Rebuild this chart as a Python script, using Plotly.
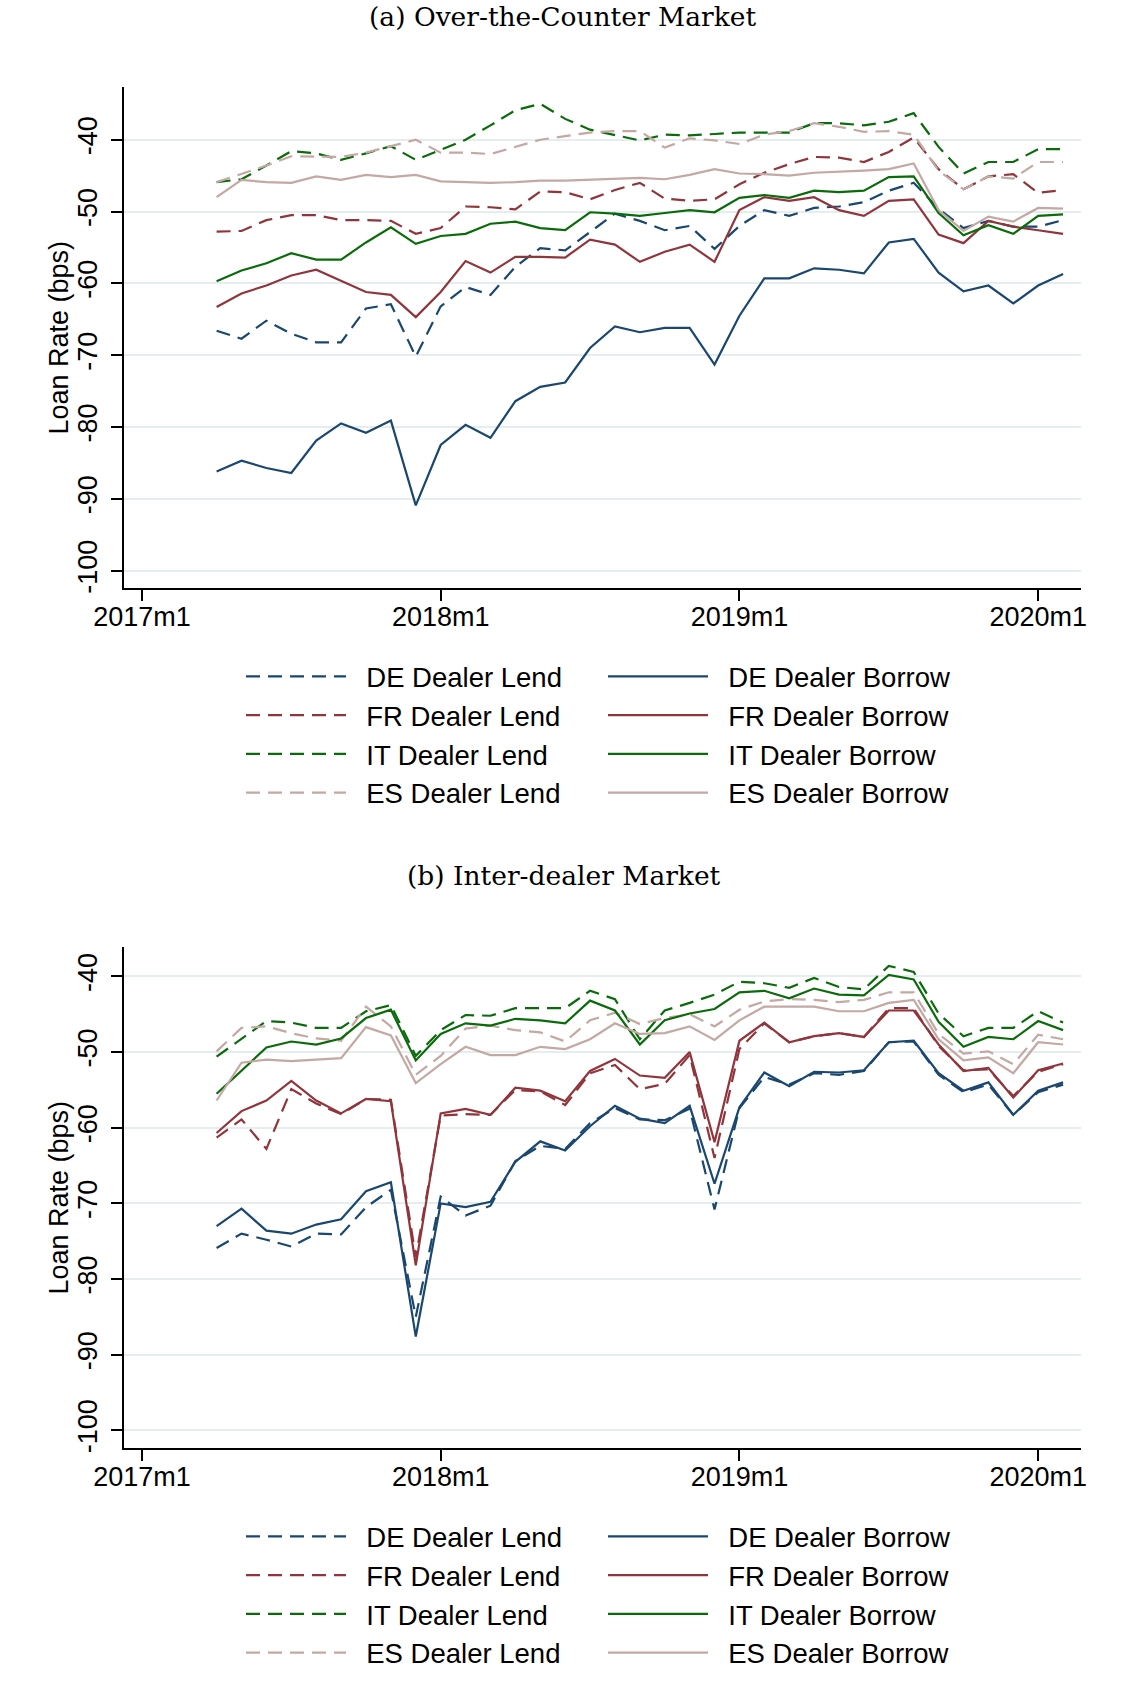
import plotly.graph_objects as go

# ---------------- data ----------------
month_labels = [
    "2017m4", "2017m5", "2017m6", "2017m7", "2017m8", "2017m9", "2017m10", "2017m11", "2017m12",
    "2018m1", "2018m2", "2018m3", "2018m4", "2018m5", "2018m6", "2018m7", "2018m8", "2018m9",
    "2018m10", "2018m11", "2018m12",
    "2019m1", "2019m2", "2019m3", "2019m4", "2019m5", "2019m6", "2019m7", "2019m8", "2019m9",
    "2019m10", "2019m11", "2019m12",
    "2020m1", "2020m2",
]
tick_labels = ["2017m1", "2018m1", "2019m1", "2020m1"]
y_ticks = [-100, -90, -80, -70, -60, -50, -40]
y_tick_text = ["-100", "-90", "-80", "-70", "-60", "-50", "-40"]
y_title = "Loan Rate (bps)"
panel_titles = ["(a) Over-the-Counter Market", "(b) Inter-dealer Market"]

# (a) Over-the-Counter market
otc_de_lend = [-66.6, -67.7, -65.2, -67.0, -68.2, -68.2, -63.5, -62.9, -70.2,
               -63.2, -60.5, -61.6, -57.7, -55.1, -55.4, -52.8, -50.3, -51.3, -52.6, -52.0, -55.2,
               -52.0, -49.8, -50.6, -49.5, -49.3, -48.7, -47.1, -46.0, -49.6, -52.3, -51.3, -52.1,
               -52.1, -51.2]
otc_de_borrow = [-86.2, -84.7, -85.7, -86.4, -81.9, -79.5, -80.8, -79.1, -90.9,
                 -82.5, -79.7, -81.5, -76.4, -74.4, -73.8, -69.0, -66.0, -66.8, -66.2, -66.2, -71.3,
                 -64.5, -59.3, -59.3, -57.9, -58.1, -58.6, -54.3, -53.8, -58.5, -61.1, -60.3, -62.8,
                 -60.3, -58.7]
otc_fr_lend = [-52.8, -52.7, -51.2, -50.5, -50.5, -51.2, -51.2, -51.3, -53.1,
               -52.3, -49.3, -49.4, -49.7, -47.2, -47.3, -48.3, -47.0, -46.0, -48.2, -48.5, -48.3,
               -46.2, -44.6, -43.4, -42.4, -42.5, -43.1, -41.7, -39.7, -44.1, -46.9, -45.1, -44.8,
               -47.4, -47.0]
otc_fr_borrow = [-63.3, -61.4, -60.3, -58.9, -58.1, -59.7, -61.2, -61.6, -64.7,
                 -61.2, -56.9, -58.5, -56.3, -56.3, -56.4, -53.9, -54.6, -57.0, -55.6, -54.6, -57.0,
                 -49.8, -48.0, -48.5, -48.0, -49.8, -50.6, -48.5, -48.3, -53.2, -54.4, -51.3, -52.1,
                 -52.6, -53.1]
otc_it_lend = [-45.9, -45.5, -43.6, -41.6, -41.9, -42.8, -41.9, -40.9, -42.8,
               -41.4, -40.0, -38.0, -35.9, -35.0, -37.1, -38.6, -39.3, -40.1, -39.3, -39.4, -39.2,
               -39.0, -39.0, -39.0, -37.7, -37.7, -38.0, -37.5, -36.3, -41.0, -44.7, -43.1, -43.1,
               -41.3, -41.3]
otc_it_borrow = [-59.7, -58.2, -57.2, -55.8, -56.7, -56.7, -54.3, -52.2, -54.5,
                 -53.4, -53.1, -51.7, -51.4, -52.3, -52.6, -50.1, -50.3, -50.6, -50.2, -49.8, -50.1,
                 -48.1, -47.7, -48.1, -47.1, -47.3, -47.1, -45.2, -45.1, -50.2, -53.3, -51.9, -53.1,
                 -50.6, -50.4]
otc_es_lend = [-45.9, -44.8, -43.6, -42.3, -42.4, -42.4, -41.8, -40.9, -40.0,
               -41.8, -41.8, -42.0, -41.0, -40.0, -39.5, -39.0, -38.8, -38.8, -41.1, -39.8, -40.1,
               -40.6, -39.3, -38.8, -37.7, -38.2, -38.9, -38.8, -39.3, -44.3, -46.9, -45.1, -45.4,
               -43.1, -43.1]
otc_es_borrow = [-48.0, -45.6, -45.9, -46.0, -45.1, -45.6, -44.9, -45.2, -44.9,
                 -45.8, -45.9, -46.0, -45.9, -45.7, -45.7, -45.6, -45.5, -45.3, -45.5, -44.9, -44.1,
                 -44.7, -44.8, -45.0, -44.6, -44.5, -44.3, -44.1, -43.3, -49.8, -52.7, -50.7, -51.4,
                 -49.5, -49.6]

# (b) Inter-dealer market
idm_de_lend = [-75.9, -74.0, -74.8, -75.7, -74.0, -74.1, -70.5, -68.2, -85.0,
               -69.1, -71.6, -70.3, -64.4, -62.4, -62.8, -59.4, -57.4, -58.9, -59.0, -57.5, -70.8,
               -57.4, -53.3, -54.3, -52.8, -53.0, -52.5, -48.7, -48.6, -53.0, -55.3, -54.3, -58.3,
               -55.3, -54.3]
idm_de_borrow = [-73.0, -70.7, -73.6, -74.0, -72.8, -72.1, -68.4, -67.2, -87.6,
                 -70.0, -70.5, -69.8, -64.5, -61.8, -63.0, -59.8, -57.1, -58.8, -59.4, -57.1, -67.4,
                 -57.3, -52.7, -54.5, -52.6, -52.7, -52.4, -48.7, -48.5, -52.8, -55.1, -54.0, -58.3,
                 -55.1, -54.0]
idm_fr_lend = [-61.3, -58.9, -62.8, -54.9, -56.8, -58.2, -56.2, -56.3, -77.1,
               -58.4, -58.2, -58.3, -55.0, -55.2, -57.0, -52.8, -51.7, -54.9, -54.2, -50.4, -64.0,
               -49.6, -46.2, -48.7, -47.9, -47.5, -48.0, -44.2, -44.2, -49.2, -52.4, -52.3, -55.8,
               -52.6, -51.6]
idm_fr_borrow = [-60.7, -57.8, -56.4, -53.8, -56.4, -58.1, -56.2, -56.5, -78.2,
                 -58.1, -57.5, -58.3, -54.7, -55.1, -56.5, -52.5, -50.9, -53.1, -53.4, -50.0, -61.9,
                 -48.5, -46.1, -48.7, -47.9, -47.5, -48.0, -44.5, -44.5, -49.0, -52.5, -52.1, -56.0,
                 -52.4, -51.5]
idm_it_lend = [-50.6, -48.2, -45.9, -46.1, -46.8, -46.8, -44.6, -43.8, -50.5,
               -47.1, -45.1, -45.2, -44.2, -44.2, -44.2, -41.9, -43.0, -48.3, -44.5, -43.5, -42.4,
               -40.7, -40.9, -41.5, -40.2, -41.4, -41.7, -38.6, -39.4, -44.9, -47.9, -46.8, -46.8,
               -44.6, -46.1]
idm_it_borrow = [-55.5, -52.4, -49.4, -48.6, -49.0, -48.2, -45.5, -44.4, -51.1,
                 -47.6, -46.2, -46.5, -45.6, -45.8, -46.2, -43.2, -44.5, -49.0, -45.8, -44.9, -44.3,
                 -42.1, -41.9, -42.9, -41.6, -42.4, -42.5, -39.8, -40.4, -46.0, -49.3, -48.0, -48.3,
                 -45.9, -47.1]
idm_es_lend = [-49.9, -46.8, -46.6, -47.5, -48.2, -48.5, -44.0, -46.6, -53.0,
               -50.5, -46.9, -46.5, -47.1, -47.4, -48.6, -45.8, -44.8, -46.3, -45.5, -45.0, -46.6,
               -44.4, -43.3, -43.0, -43.1, -43.4, -43.1, -42.1, -42.1, -47.6, -50.2, -49.9, -51.6,
               -47.7, -48.3]
idm_es_borrow = [-56.4, -51.4, -51.0, -51.2, -51.0, -50.8, -46.7, -47.8, -54.1,
                 -51.6, -49.3, -50.4, -50.4, -49.3, -49.6, -48.3, -46.2, -47.6, -47.5, -46.6, -48.4,
                 -45.8, -44.0, -44.0, -44.0, -44.6, -44.6, -43.5, -43.1, -48.3, -51.1, -50.7, -52.8,
                 -48.7, -49.0]

countries = ["DE", "FR", "IT", "ES"]
colors = {"DE": "#1a476f", "FR": "#90353b", "IT": "#0a6b0a", "ES": "#c3a8a3"}

panels = [
    {"lend": [otc_de_lend, otc_fr_lend, otc_it_lend, otc_es_lend],
     "borrow": [otc_de_borrow, otc_fr_borrow, otc_it_borrow, otc_es_borrow],
     "xa": "x", "ya": "y", "legs": ("legend", "legend2")},
    {"lend": [idm_de_lend, idm_fr_lend, idm_it_lend, idm_es_lend],
     "borrow": [idm_de_borrow, idm_fr_borrow, idm_it_borrow, idm_es_borrow],
     "xa": "x2", "ya": "y2", "legs": ("legend3", "legend4")},
]


def month_index(lbl):
    y, m = lbl.split("m")
    return (int(y) - 2017) * 12 + int(m) - 1


x_vals = [month_index(l) for l in month_labels]
tick_vals = [month_index(l) for l in tick_labels]

SANS = "Liberation Sans, Arial, sans-serif"
SERIF = "DejaVu Serif, serif"
DASH = "14px,8px"
GAP = "\u00a0\u00a0"  # spacing between legend key and label

fig = go.Figure()
for p in panels:
    for i, c in enumerate(countries):
        fig.add_trace(go.Scatter(
            x=x_vals, y=p["lend"][i], mode="lines", name=f"{GAP}{c} Dealer Lend",
            line=dict(color=colors[c], width=2.2, dash=DASH),
            xaxis=p["xa"], yaxis=p["ya"], legend=p["legs"][0]))
    for i, c in enumerate(countries):
        fig.add_trace(go.Scatter(
            x=x_vals, y=p["borrow"][i], mode="lines", name=f"{GAP}{c} Dealer Borrow",
            line=dict(color=colors[c], width=2.2),
            xaxis=p["xa"], yaxis=p["ya"], legend=p["legs"][1]))

W, H = 1125, 1690
ML, MR, MT, MB = 124, 44, 87.3, 241.7
PH = H - MT - MB


def py(px):  # pixel y -> paper y
    return (H - MB - px) / PH


def px_x(px):
    return (px - ML) / (W - ML - MR)


xaxis_common = dict(
    range=[-0.72, 37.72], tickmode="array", tickvals=tick_vals, ticktext=tick_labels,
    tickangle=0, automargin=False, ticklabelstandoff=-7,
    ticks="outside", ticklen=11, tickwidth=1.5, tickcolor="black",
    showline=True, linecolor="black", linewidth=1.5, showgrid=False, zeroline=False,
    tickfont=dict(family=SANS, size=27, color="black"),
)
yaxis_common = dict(
    tickmode="array", tickvals=y_ticks, ticktext=y_tick_text, tickangle=-90, automargin=False,
    ticklabelstandoff=3,
    ticks="outside", ticklen=11, tickwidth=1.5, tickcolor="black",
    showline=True, linecolor="black", linewidth=1.5,
    showgrid=True, gridcolor="#e5edf0", gridwidth=2, zeroline=False,
    tickfont=dict(family=SANS, size=27, color="black"),
)

leg_common = dict(
    xref="container", yref="container", xanchor="left", yanchor="top",
    orientation="v", bgcolor="rgba(0,0,0,0)", borderwidth=0,
    font=dict(family=SANS, size=27.5, color="black"), itemwidth=100,
    traceorder="normal",
)

annotations = [
    dict(text=panel_titles[0], xref="paper", yref="paper",
         x=px_x(562), y=py(17), xanchor="center", yanchor="middle", showarrow=False,
         font=dict(family=SERIF, size=26.5, color="black")),
    dict(text=panel_titles[1], xref="paper", yref="paper",
         x=px_x(563.5), y=py(876), xanchor="center", yanchor="middle", showarrow=False,
         font=dict(family=SERIF, size=26.5, color="black")),
    dict(text=y_title, xref="paper", yref="paper", textangle=-90,
         x=px_x(58), y=py(337.8), xanchor="center", yanchor="middle", showarrow=False,
         font=dict(family=SANS, size=27, color="black")),
    dict(text=y_title, xref="paper", yref="paper", textangle=-90,
         x=px_x(58), y=py(1197.8), xanchor="center", yanchor="middle", showarrow=False,
         font=dict(family=SANS, size=27, color="black")),
]

fig.update_layout(
    width=W, height=H, autosize=False,
    margin=dict(l=ML, r=MR, t=MT, b=MB, autoexpand=False),
    paper_bgcolor="white", plot_bgcolor="white",
    xaxis=dict(domain=[0, 1], anchor="y", **xaxis_common),
    yaxis=dict(domain=[py(588.3), 1], anchor="x", range=[-102.41, -32.66], **yaxis_common),
    xaxis2=dict(domain=[0, 1], anchor="y2", **xaxis_common),
    yaxis2=dict(domain=[0, py(947.3)], anchor="x2", range=[-102.33, -36.11], **yaxis_common),
    legend=dict(x=241 / W, y=1 - 652 / H, **leg_common),
    legend2=dict(x=603 / W, y=1 - 652 / H, **leg_common),
    legend3=dict(x=241 / W, y=1 - 1512 / H, **leg_common),
    legend4=dict(x=603 / W, y=1 - 1512 / H, **leg_common),
    annotations=annotations,
)

fig.write_html("out.html")
